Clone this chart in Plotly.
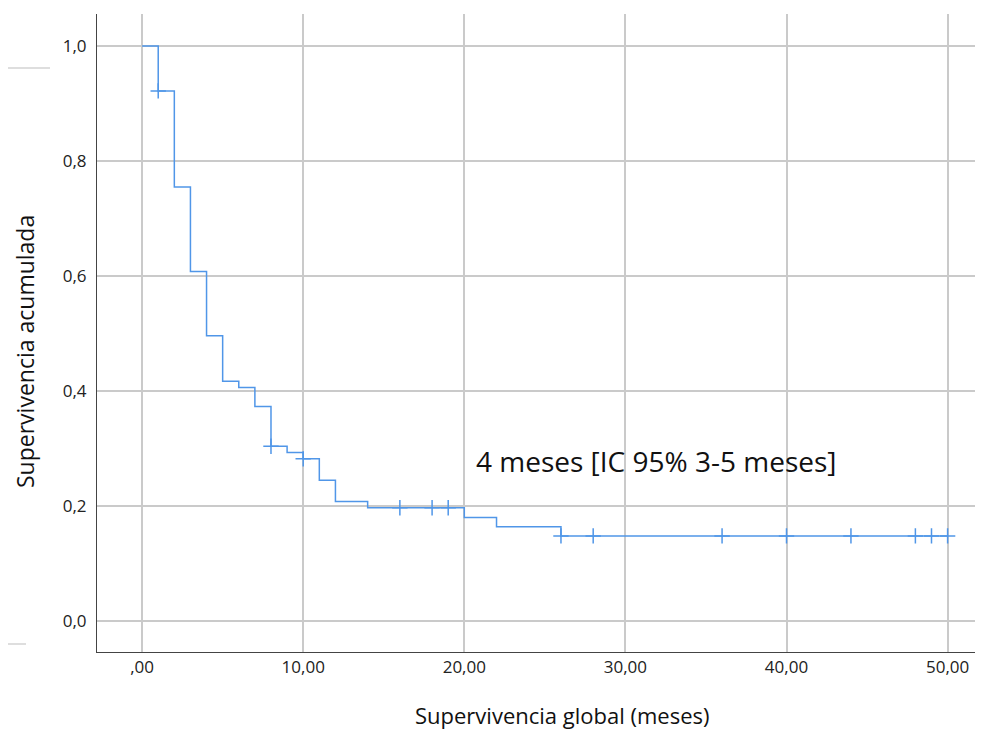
import plotly.graph_objects as go

# Kaplan-Meier step curve
step_times = [0, 1, 2, 3, 4, 5, 6, 7, 8, 9, 10, 11, 12, 14, 20, 22, 26, 50]
step_surv = [1.0, 0.922, 0.755, 0.608, 0.496, 0.417, 0.406, 0.373, 0.304, 0.293,
             0.282, 0.245, 0.208, 0.197, 0.180, 0.164, 0.148, 0.148]

# censored observations
cens_times = [1, 8, 10, 16, 18, 19, 26, 28, 36, 40, 44, 48, 49, 50]
cens_surv = [0.922, 0.304, 0.282, 0.197, 0.197, 0.197, 0.148, 0.148, 0.148,
             0.148, 0.148, 0.148, 0.148, 0.148]

x_tickvals = [0, 10, 20, 30, 40, 50]
x_ticktext = [",00", "10,00", "20,00", "30,00", "40,00", "50,00"]
y_tickvals = [0.0, 0.2, 0.4, 0.6, 0.8, 1.0]
y_ticktext = ["0,0", "0,2", "0,4", "0,6", "0,8", "1,0"]

annot_text = "4 meses [IC 95% 3-5 meses]"
x_title = "Supervivencia global (meses)"
y_title = "Supervivencia acumulada"

LINE = "#5096E8"
GRID = "#cacaca"
FONT = "Open Sans"

PW, PH = 886, 638  # plot area size in px
FIG_W, FIG_H = 975, 723

fig = go.Figure()
fig.add_trace(go.Scatter(x=step_times, y=step_surv, mode="lines",
                         line=dict(shape="hv", color=LINE, width=1.5),
                         hoverinfo="skip", showlegend=False))
fig.add_trace(go.Scatter(x=cens_times, y=cens_surv, mode="markers",
                         marker=dict(symbol="cross-thin", size=11,
                                     line=dict(color=LINE, width=1.5)),
                         hoverinfo="skip", showlegend=False))

fig.add_annotation(x=31.9, y=0.279, xref="x", yref="y", text=annot_text,
                   showarrow=False, xanchor="center", yanchor="middle",
                   font=dict(family=FONT, size=28, color="#111111"))
fig.add_annotation(x=(562 - 97) / PW, y=(652 - 715) / PH, xref="paper", yref="paper",
                   text=x_title, showarrow=False, xanchor="center", yanchor="middle",
                   font=dict(family=FONT, size=22, color="#111111"))
fig.add_annotation(x=(25 - 97) / PW, y=(652 - 352) / PH, xref="paper", yref="paper",
                   text=y_title, showarrow=False, textangle=-90,
                   xanchor="center", yanchor="middle",
                   font=dict(family=FONT, size=23, color="#111111"))

# small stray gray segments at the left margin
fig.add_shape(type="line", xref="paper", yref="paper",
              x0=(8 - 97) / PW, x1=(50 - 97) / PW, y0=(652 - 68) / PH, y1=(652 - 68) / PH,
              line=dict(color="#bdbdbd", width=1))
fig.add_shape(type="line", xref="paper", yref="paper",
              x0=(4 - 97) / PW, x1=(26 - 97) / PW, y0=(652 - 644) / PH, y1=(652 - 644) / PH,
              line=dict(color="#bdbdbd", width=1))

fig.update_xaxes(range=[-2.8, -2.8 + PW / 16.11], tickvals=x_tickvals, ticktext=x_ticktext,
                 showgrid=True, gridcolor=GRID, gridwidth=1.5, zeroline=False,
                 showline=True, linecolor="#444444", linewidth=1, ticks="",
                 tickfont=dict(family=FONT, size=17, color="#222222"))
fig.update_yaxes(range=[-0.0539, 1.0557], tickvals=y_tickvals, ticktext=y_ticktext,
                 showgrid=True, gridcolor=GRID, gridwidth=2, zeroline=False,
                 showline=True, linecolor="#444444", linewidth=1, ticks="",
                 ticklabelstandoff=6,
                 tickfont=dict(family=FONT, size=17, color="#222222"))

fig.update_layout(width=FIG_W, height=FIG_H, plot_bgcolor="white", paper_bgcolor="white",
                  margin=dict(l=89, r=FIG_W - 89 - PW, t=6, b=FIG_H - 6 - PH),
                  showlegend=False)

fig.write_html("out.html")
